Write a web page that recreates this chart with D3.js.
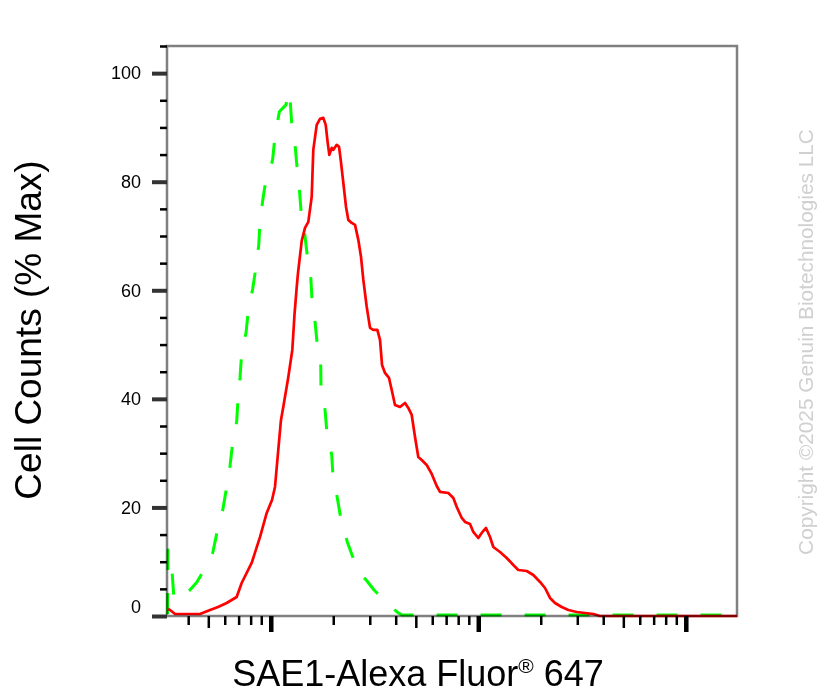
<!DOCTYPE html>
<html><head><meta charset="utf-8">
<script src="https://cdn.jsdelivr.net/npm/d3@7"></script>
<style>body{margin:0;background:#fff} svg{display:block}</style>
</head><body><svg id="c" width="839" height="693"></svg>
<script>
// ---- data ----
const redX = [320,327,346,456,510,557,613,685,724,809,888,956,1014,1048,1087,1120,1149,1215,1270,1301,1334,1353,1410,1462,1517,1575,1603,1665,1727,1792,1840,1881,1915,1967,2002,2079,2133,2173,2237,2305,2364,2455,2547,2642,2722,2793,2900,3008,3120,3262,3361,3437,3552,3714,3827,3969,4197,4436,4601,4778,4956,5140,5338,5642,5965,6306,6541,7173,7583,7875,8325,8635,9124,9463,10003,10387,10894,11390,11815,12727,13709,14751,15597,17120,18417,19839,20970,22166,23432,25240,27165,29810,32690,35840,38600,176500];
const redY = [1.29,1.11,0.37,0.37,1.11,1.66,2.40,3.50,6.08,9.77,14.56,18.98,21.37,23.77,30.59,36.12,38.51,44.04,49.01,55.46,60.62,63.20,69.10,71.49,72.60,77.21,85.87,90.47,91.58,91.76,90.47,87.16,84.95,86.24,85.87,86.79,86.42,84.02,79.79,75.36,72.97,72.41,72.05,69.28,66.15,61.91,56.94,53.07,52.70,52.70,50.86,46.25,44.78,43.85,41.64,38.88,38.51,39.25,38.33,37.04,32.98,29.30,28.74,27.82,26.17,23.95,22.85,22.66,21.74,20.08,18.06,17.32,16.95,15.48,14.37,15.29,16.22,14.56,12.71,11.79,10.69,9.40,8.48,8.29,7.55,6.27,5.16,3.32,2.40,1.66,1.11,0.74,0.55,0.37,0,0];
const greenX = [318,320,334,342,374,408,441,482,525,551,587,613,636,658,685,695,711,724,760,780,818,849,875,888,915,949,981,1022,1048,1100,1146,1184,1215,1238,1261,1309,1338,1372,1399,1446,1500,1558,1581,1634,1676,1741,1746,1826,1866,1967,1995,2093,2181,2338,2464,2547,2692,2909,3145,3399,3714,4059,4291,176500];
const greenY = [0.37,12.16,8.48,2.95,3.69,4.79,6.27,8.84,11.61,15.48,19.53,23.77,27.64,32.43,35.80,39.80,43.85,48.46,52.15,56.38,60.25,64.31,68.36,72.60,76.65,80.52,81.26,84.21,88.45,92.87,93.61,94.16,96.74,95.45,90.84,86.79,82.73,78.86,74.63,71.49,66.34,62.47,58.23,54.17,49.94,46.07,41.83,37.96,33.72,29.67,25.61,21.74,17.69,13.64,11.24,9.77,7.92,6.45,4.79,3.50,2.21,0.74,0.18,0.18];
const yMajorTicks = [0,20,40,60,80,100];
const yTickLabels = ["0","20","40","60","80","100"];
const yMinorTicks = [5,10,15,25,30,35,45,50,55,65,70,75,85,90,95,105];
const xMajorTicks = [1000,10000,100000];
const xMidTicks = [500,5000,50000];
const xMinorTicks = [400,600,700,800,900,2000,3000,4000,6000,7000,8000,9000,20000,30000,40000,60000,70000,80000,90000];
const xTitleMain = "SAE1-Alexa Fluor";
const xTitleSup = "®";
const xTitleEnd = " 647";
const yTitle = "Cell Counts (% Max)";
const copyright = "Copyright ©2025 Genuin Biotechnologies LLC";

// ---- layout ----
const L = 167, R = 737, T = 46, B = 616;
const FONT = "'Liberation Sans', Arial, Helvetica, sans-serif";
const svg = d3.select("#c");
svg.append("rect").attr("width",839).attr("height",693).attr("fill","#fff");

const x = d3.scaleLog().domain([316.2, 176500]).range([L, R]);
const y = d3.scaleLinear().domain([0, 105]).range([B, T]);

const line = d3.line().x(d => x(d[0])).y(d => y(d[1]));
const greenPts = greenX.map((v,i) => [v, greenY[i]]);
const redPts = redX.map((v,i) => [v, redY[i]]);

svg.append("path").datum(greenPts).attr("d", line)
  .attr("fill","none").attr("stroke","#00ff00").attr("stroke-width",3)
  .attr("stroke-dasharray","21,23").attr("stroke-linejoin","round");
svg.append("path").datum(redPts).attr("d", line)
  .attr("fill","none").attr("stroke","#ff0000").attr("stroke-width",2.7)
  .attr("stroke-linejoin","round");

// frame (multiply so the lines show dark where they run on it)
svg.append("rect").attr("x",L).attr("y",T).attr("width",R-L).attr("height",B-T)
  .attr("fill","none").attr("stroke","#808080").attr("stroke-width",2.5)
  .style("mix-blend-mode","multiply");

// y axis
const gyMinor = svg.append("g").attr("transform",`translate(${L},0)`)
  .call(d3.axisLeft(y).tickValues(yMinorTicks).tickSize(7).tickFormat(""));
gyMinor.select(".domain").remove();
gyMinor.selectAll(".tick line").attr("stroke","#000").attr("stroke-width",2.5);

const gyMajor = svg.append("g").attr("transform",`translate(${L},0)`)
  .call(d3.axisLeft(y).tickValues(yMajorTicks).tickSize(15).tickPadding(11)
    .tickFormat((d,i) => yTickLabels[i]));
gyMajor.select(".domain").remove();
gyMajor.selectAll(".tick line").attr("stroke","#333").attr("stroke-width",4);
gyMajor.selectAll(".tick text").attr("font-family",FONT).attr("font-size",18)
  .attr("fill","#000")
  .attr("dy", d => d === 0 ? "-0.2em" : "0.32em");

// x axis
function xAxis(vals, size, width){
  const g = svg.append("g").attr("transform",`translate(0,${B})`)
    .call(d3.axisBottom(x).tickValues(vals).tickSize(size).tickFormat(""));
  g.select(".domain").remove();
  g.selectAll(".tick line").attr("stroke","#000").attr("stroke-width",width);
}
xAxis(xMinorTicks, 9, 2.5);
xAxis(xMidTicks, 12, 2.5);
xAxis(xMajorTicks, 16, 4.5);

// titles
svg.append("text").attr("transform","translate(41,330) rotate(-90)")
  .attr("text-anchor","middle").attr("font-family",FONT).attr("font-size",37)
  .attr("fill","#000").text(yTitle);

const xt = svg.append("text").attr("x",418).attr("y",686)
  .attr("text-anchor","middle").attr("font-family",FONT).attr("font-size",36)
  .attr("fill","#000");
xt.append("tspan").text(xTitleMain);
xt.append("tspan").attr("font-size",21).attr("dy",-13).text(xTitleSup);
xt.append("tspan").attr("dy",13).text(xTitleEnd);

svg.append("text").attr("transform","translate(813,342) rotate(-90)")
  .attr("text-anchor","middle").attr("font-family",FONT).attr("font-size",20.8)
  .attr("fill","#d0d0d0").text(copyright);
</script></body></html>
